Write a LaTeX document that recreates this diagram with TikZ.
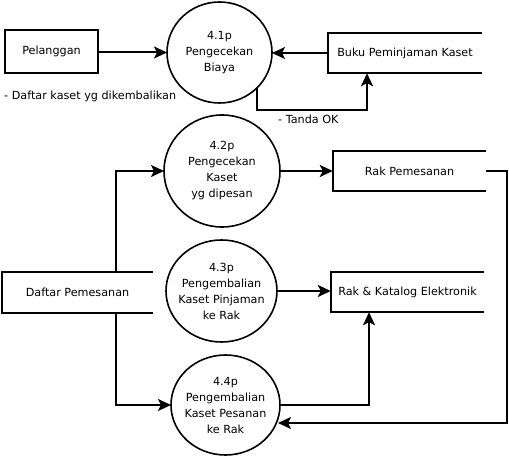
\documentclass[tikz,border=0pt]{standalone}
\usepackage{fontspec}
\setmainfont{DejaVu Sans}
\usetikzlibrary{shapes.geometric,arrows.meta,calc}
\begin{document}
\begin{tikzpicture}[x=1pt,y=1pt,
  every node/.style={font=\fontsize{11.2}{16}\selectfont, inner sep=0pt},
  every label/.style={align=center, inner sep=0pt},
  proc/.style={ellipse, draw, line width=1.6pt, outer sep=0pt},
  ext/.style={rectangle, draw, line width=2pt},
  store/.style={rectangle, draw=none},
  arr/.style={line width=2pt, -{Stealth[length=13pt,width=12pt,inset=3pt]}},
  ln/.style={line width=2pt}]
\useasboundingbox (0,0) rectangle (509,458);
% nodes
\node[ext, minimum width=93pt, minimum height=43pt] (pel) at (51.5,406.5) {Pelanggan};
\node[proc, minimum width=105pt, minimum height=101pt, label={center:4.1p\\Pengecekan\\Biaya}] (c1) at (219.5,405.5) {};
\node[store, minimum width=154pt, minimum height=40pt] (buku) at (405,405) {Buku Peminjaman Kaset};
\node[anchor=west] (lbl1) at (4,362) {- Daftar kaset yg dikembalikan};
\node[anchor=west] (lbl2) at (278,339) {- Tanda OK};
\node[proc, minimum width=116pt, minimum height=112pt, label={center:4.2p\\Pengecekan\\Kaset\\yg dipesan}] (c2) at (222,287) {};
\node[store, minimum width=153pt, minimum height=40pt] (rakp) at (409.5,287) {Rak Pemesanan};
\node[store, minimum width=151pt, minimum height=41pt] (dp) at (77.5,165.5) {Daftar Pemesanan};
\node[proc, minimum width=111pt, minimum height=102pt, label={center:4.3p\\Pengembalian\\Kaset Pinjaman\\ke Rak}] (c3) at (221.5,167) {};
\node[store, minimum width=153pt, minimum height=40pt] (rk) at (407.5,166) {Rak \& Katalog Elektronik};
\node[proc, minimum width=109pt, minimum height=100pt, label={center:4.4p\\Pengembalian\\Kaset Pesanan\\ke Rak}] (c4) at (225.5,53) {};
% open-right stores
\foreach \s in {buku,rakp,dp,rk}{
  \draw[ln] (\s.north east) -- (\s.north west) -- (\s.south west) -- (\s.south east);
}
% coordinates
\coordinate (tok) at (367,348);
\coordinate (lp) at (507,35);
% connectors
\draw[arr] (pel.east |- c1.west) -- (c1.west);
\draw[arr] (buku.west) -- (buku.west -| c1.east);
\draw[arr] (c1.south east) |- (tok) -- (tok |- buku.south);
\draw[arr] ([xshift=38.5pt]dp.north) |- (c2.west);
\draw[arr] (c2.east) -- (c2.east -| rakp.west);
\draw[arr] (c3.east) -- (c3.east -| rk.west);
\draw[arr] ([xshift=38.5pt]dp.south) |- (c4.west);
\draw[arr] (c4.east) -| ([xshift=-38.5pt]rk.south);
\draw[arr] (rakp.east) -| (lp) -- ([xshift=-2pt]c4.east |- lp);
\end{tikzpicture}
\end{document}
